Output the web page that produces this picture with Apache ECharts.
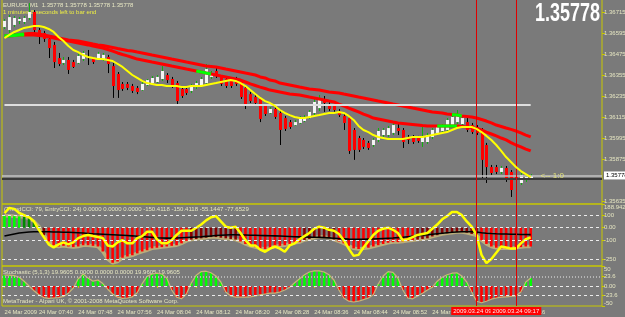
<!DOCTYPE html>
<html><head><meta charset="utf-8">
<script src="https://cdn.jsdelivr.net/npm/echarts@6/dist/echarts.min.js"></script>
<style>html,body{margin:0;padding:0;background:#7a7a7a;overflow:hidden}#c{width:625px;height:317px}</style>
</head><body><div id="c"></div>
<script>
// ---------- DATA ----------
const times = [];
for (let m = 7 * 60 + 33; m <= 9 * 60 + 34; m++) {
  times.push(String(Math.floor(m / 60)).padStart(2, '0') + ':' + String(m % 60).padStart(2, '0'));
}
// [open, close, low, high]
const candles = [
[1.36629,1.36664,1.36618,1.36675],[1.36612,1.36686,1.36595,1.36698],[1.36641,1.36681,1.36629,1.36692],[1.36664,1.36675,1.36646,1.36686],
[1.36658,1.36681,1.36646,1.36692],[1.36681,1.36715,1.36669,1.36766],[1.36715,1.36612,1.36589,1.36726],[1.36612,1.36589,1.36532,1.36624],
[1.36595,1.36561,1.36544,1.36607],[1.36561,1.36509,1.36452,1.36572],[1.36527,1.36429,1.36395,1.36544],[1.36452,1.36418,1.36406,1.36481],
[1.36424,1.36441,1.36412,1.36458],[1.36441,1.36384,1.36361,1.36458],[1.36429,1.36401,1.36395,1.36441],[1.36424,1.36464,1.36418,1.36476],
[1.36447,1.36481,1.36435,1.36492],[1.36458,1.36452,1.36412,1.36498],[1.36452,1.36429,1.36418,1.36458],[1.36452,1.36476,1.36447,1.36487],
[1.36447,1.36470,1.36435,1.36481],[1.36458,1.36418,1.36366,1.36470],[1.36406,1.36292,1.36224,1.36424],[1.36361,1.36269,1.36224,1.36372],
[1.36304,1.36275,1.36264,1.36315],[1.36304,1.36281,1.36269,1.36315],[1.36292,1.36264,1.36252,1.36304],[1.36281,1.36258,1.36246,1.36292],
[1.36269,1.36304,1.36264,1.36315],[1.36298,1.36326,1.36292,1.36332],[1.36309,1.36338,1.36304,1.36349],[1.36315,1.36344,1.36309,1.36355],
[1.36332,1.36378,1.36321,1.36406],[1.36355,1.36326,1.36309,1.36366],[1.36332,1.36292,1.36281,1.36344],[1.36309,1.36206,1.36189,1.36321],
[1.36275,1.36235,1.36224,1.36286],[1.36275,1.36252,1.36241,1.36286],[1.36264,1.36292,1.36252,1.36304],[1.36286,1.36309,1.36275,1.36321],
[1.36298,1.36332,1.36286,1.36344],[1.36309,1.36389,1.36298,1.36418],[1.36344,1.36366,1.36332,1.36378],[1.36378,1.36361,1.36338,1.36401],
[1.36344,1.36304,1.36292,1.36355],[1.36332,1.36292,1.36281,1.36344],[1.36321,1.36292,1.36281,1.36332],[1.36332,1.36304,1.36292,1.36344],
[1.36315,1.36229,1.36218,1.36326],[1.36281,1.36178,1.36161,1.36292],[1.36246,1.36206,1.36195,1.36258],[1.36229,1.36195,1.36189,1.36241],
[1.36218,1.36104,1.36086,1.36229],[1.36178,1.36132,1.36121,1.36189],[1.36138,1.36161,1.36132,1.36172],[1.36161,1.36115,1.36104,1.36172],
[1.36138,1.36041,1.35955,1.36149],[1.36109,1.36047,1.36035,1.36121],[1.36086,1.36058,1.36047,1.36098],[1.36069,1.36086,1.36064,1.36098],
[1.36081,1.36109,1.36075,1.36121],[1.36092,1.36115,1.36086,1.36126],[1.36109,1.36144,1.36104,1.36155],[1.36138,1.36201,1.36126,1.36229],
[1.36166,1.36212,1.36149,1.36241],[1.36212,1.36195,1.36144,1.36235],[1.36189,1.36161,1.36149,1.36201],[1.36178,1.36155,1.36144,1.36189],
[1.36149,1.36126,1.36115,1.36161],[1.36121,1.36081,1.36041,1.36138],[1.36109,1.35921,1.35904,1.36121],[1.36041,1.35927,1.35870,1.36052],
[1.35995,1.35927,1.35915,1.36007],[1.35984,1.35944,1.35932,1.35995],[1.35967,1.35938,1.35927,1.35978],[1.35955,1.35984,1.35944,1.35995],
[1.35984,1.36035,1.35972,1.36052],[1.36012,1.36041,1.36001,1.36052],[1.36012,1.36052,1.36001,1.36064],[1.36024,1.36069,1.36012,1.36081],
[1.36052,1.36035,1.36012,1.36086],[1.36041,1.35972,1.35938,1.36052],[1.36001,1.35984,1.35961,1.36012],[1.36001,1.35972,1.35961,1.36012],
[1.35995,1.35978,1.35967,1.36007],[1.35972,1.36001,1.35944,1.36064],[1.35972,1.36012,1.35961,1.36024],[1.36001,1.36041,1.35989,1.36052],
[1.36024,1.36058,1.36012,1.36069],[1.36035,1.36064,1.36024,1.36075],[1.36041,1.36098,1.36029,1.36109],[1.36069,1.36115,1.36058,1.36126],
[1.36086,1.36126,1.36075,1.36155],[1.36075,1.36109,1.36064,1.36121],[1.36086,1.36041,1.36029,1.36109],[1.36069,1.36029,1.36018,1.36081],
[1.36058,1.36024,1.36012,1.36069],[1.36041,1.35870,1.35755,1.36052],[1.35955,1.35829,1.35738,1.35967],[1.35829,1.35795,1.35784,1.35841],
[1.35829,1.35801,1.35789,1.35841],[1.35801,1.35824,1.35789,1.35835],[1.35824,1.35755,1.35744,1.35835],[1.35801,1.35698,1.35658,1.35812],
[1.35772,1.35755,1.35670,1.35784],[1.35738,1.35784,1.35727,1.35795],[1.35755,1.35772,1.35744,1.35789],[1.35761,1.35778,1.35755,1.35789]
];
const yellowMA = [
1.36566,1.36584,1.36601,1.36612,1.36624,1.36629,1.36635,1.36635,1.36629,1.36618,
1.36601,1.36572,1.36549,1.36521,1.36498,1.36486,1.36469,1.36458,1.36452,1.36446,
1.36446,1.36441,1.36435,1.36418,1.36401,1.36378,1.36355,1.36338,1.36321,1.36309,
1.36304,1.36298,1.36298,1.36292,1.36292,1.36292,1.36286,1.36286,1.36292,1.36292,
1.36292,1.36298,1.36304,1.36309,1.36315,1.36321,1.36326,1.36321,1.36309,1.36292,
1.36269,1.36246,1.36224,1.36206,1.36195,1.36178,1.36155,1.36138,1.36126,1.36115,
1.36109,1.36109,1.36115,1.36121,1.36126,1.36132,1.36138,1.36138,1.36144,1.36138,
1.36121,1.36098,1.36064,1.36041,1.36029,1.36012,1.36001,1.35995,1.35989,1.35989,
1.35989,1.35989,1.35995,1.36001,1.36001,1.36001,1.36007,1.36012,1.36018,1.36024,
1.36029,1.36041,1.36052,1.36058,1.36058,1.36058,1.36047,1.36029,1.36007,1.35984,
1.35955,1.35921,1.35886,1.35858,1.35829,1.35806,1.35789,1.35772];
const upperBand = [
1.36578,1.36581,1.36584,1.36586,1.36589,1.36592,1.36592,1.36589,1.36584,1.36578,
1.36572,1.36566,1.36561,1.36555,1.36552,1.36549,1.36544,1.36538,1.36532,1.36527,
1.36524,1.36518,1.36512,1.36506,1.36501,1.36495,1.36492,1.36486,1.36481,1.36475,
1.36469,1.36464,1.36458,1.36452,1.36446,1.36441,1.36435,1.36429,1.36424,1.36418,
1.36412,1.36406,1.36404,1.36401,1.36395,1.36389,1.36384,1.36378,1.36372,1.36366,
1.36361,1.36355,1.36344,1.36338,1.36326,1.36321,1.36309,1.36304,1.36298,1.36292,
1.36286,1.36281,1.36275,1.36272,1.36269,1.36264,1.36258,1.36255,1.36252,1.36246,
1.36241,1.36235,1.36229,1.36224,1.36218,1.36212,1.36206,1.36201,1.36195,1.36189,
1.36184,1.36178,1.36172,1.36166,1.36161,1.36155,1.36149,1.36144,1.36141,1.36138,
1.36132,1.36129,1.36126,1.36121,1.36118,1.36115,1.36109,1.36101,1.36092,1.36081,
1.36069,1.36061,1.36052,1.36044,1.36035,1.36024,1.36012,1.36001];
const lowerBand = [
1.36578,1.36578,1.36581,1.36584,1.36584,1.36584,1.36584,1.36581,1.36578,1.36572,
1.36566,1.36561,1.36555,1.36549,1.36544,1.36538,1.36532,1.36527,1.36521,1.36515,
1.36509,1.36501,1.36492,1.36481,1.36472,1.36464,1.36455,1.36446,1.36441,1.36435,
1.36429,1.36424,1.36418,1.36412,1.36406,1.36401,1.36395,1.36389,1.36384,1.36378,
1.36372,1.36366,1.36361,1.36355,1.36349,1.36344,1.36338,1.36332,1.36326,1.36315,
1.36304,1.36295,1.36286,1.36278,1.36269,1.36264,1.36258,1.36252,1.36246,1.36244,
1.36241,1.36235,1.36229,1.36224,1.36218,1.36212,1.36206,1.36201,1.36189,1.36178,
1.36166,1.36155,1.36144,1.36132,1.36121,1.36109,1.36104,1.36098,1.36092,1.36086,
1.36081,1.36078,1.36075,1.36072,1.36069,1.36066,1.36064,1.36064,1.36064,1.36064,
1.36064,1.36064,1.36064,1.36061,1.36058,1.36055,1.36049,1.36041,1.36029,1.36018,
1.36007,1.35995,1.35984,1.35969,1.35955,1.35944,1.35932,1.35921];
const greenUpperRanges = [[0, 4], [91, 93]];
const greenLowerRanges = [[0, 4], [39, 42], [88, 92]];
const trendCCI = [
95,95,92,90,85,75,50,10,-60,-110,
-140,-150,-145,-150,-155,-150,-140,-140,-145,-150,
-190,-250,-280,-270,-240,-230,-220,-205,-190,-180,
-165,-160,-155,-150,-145,-140,-125,-105,-95,-90,
-85,-80,-75,-75,-80,-85,-90,-95,-110,-130,
-145,-155,-165,-170,-160,-150,-145,-140,-130,-120,
-115,-98,-90,-80,-75,-75,-80,-95,-110,-125,
-145,-165,-170,-165,-160,-150,-140,-130,-120,-115,
-115,-110,-105,-100,-95,-90,-85,-70,-60,-50,
-45,-40,-35,-35,-40,-50,-60,-100,-130,-150,
-160,-165,-165,-165,-160,-155,-150,-150.41];
const entryCCI = [
117,158,150,117,100,83,50,-17,-75,-133,
-158,-133,-117,-133,-117,-83,-67,-58,-67,-75,
-83,-142,-150,-117,-100,-125,-125,-83,-67,-33,
-33,-92,-125,-125,-100,-58,-25,-25,-25,0,
25,58,83,92,50,8,0,8,-42,-100,
-142,-142,-175,-192,-167,-150,-167,-192,-142,-125,
-92,-67,-42,-8,8,0,-17,-25,-50,-100,
-167,-225,-217,-158,-108,-58,-25,-8,0,-17,
-42,-100,-92,-75,-58,-50,-42,-8,25,67,
92,125,125,100,50,8,-58,-217,-283,-250,
-200,-150,-158,-167,-167,-125,-92,-77.65];
const cciSignal = [
-67,-58,-50,-42,-38,-34,-33,-33,-33,-33,
-34,-35,-36,-37,-38,-40,-43,-46,-49,-51,
-53,-55,-57,-59,-61,-63,-65,-68,-71,-74,
-77,-80,-82,-83,-83,-82,-80,-78,-76,-74,
-72,-69,-66,-63,-60,-58,-57,-57,-58,-59,
-60,-61,-62,-63,-64,-65,-66,-68,-70,-72,
-73,-74,-75,-76,-77,-79,-81,-84,-87,-89,
-91,-92,-92,-92,-91,-90,-88,-86,-84,-82,
-79,-76,-72,-68,-64,-60,-56,-52,-48,-44,
-40,-37,-34,-33,-33,-33,-35,-40,-44,-47,
-49,-50,-51,-52,-53,-54,-55,-55.14];
const stochHist = [
27,27,26,22,12,0,-12,-22,-29,-31,
-30,-29,-26,-18,-5,18,30,20,12,15,
6,-8,-20,-28,-31,-30,-27,-17,6,24,
30,32,30,20,-10,-28,-32,-20,8,27,
36,37,33,25,10,-15,-25,-28,-28,-28,
-27,-25,-22,-20,-18,-18,-15,-10,-3,8,
18,28,35,38,38,35,28,15,-10,-30,
-38,-40,-38,-34,-30,-22,5,25,36,34,
20,-10,-30,-32,-25,-18,-10,-3,12,22,
28,32,33,25,10,-15,-38,-42,-38,-33,
-30,-28,-27,-26,-25,-15,10,19.96];
const priceTicks = [1.35635, 1.35875, 1.35995, 1.36115, 1.36235, 1.36355, 1.36475, 1.36595, 1.36715];
const cciTicks = [-305.758, -250, -100, 0, 100, 188.942];
const cciTickLabels = ['-305.758', '-250', '-100', '0.00', '100', '188.942'];
const stochTicks = [-50, -23.6, 0, 23.6, 50];
const stochTickLabels = ['-50', '-23.6', '0.00', '23.6', '50'];
const lastPrice = 1.35778;
const hLinePrice = 1.36184;
const vLineIdx = [96, 104];
const vLineLabels = ['2009.03.24 09:09', '2009.03.24 09:17'];

// ---------- CHART ----------
const F = '"Liberation Sans", Arial, sans-serif';
const TXT = '#e6e6c2';
const YEL = '#c8c800';
const inRanges = (i, rs) => rs.some(r => i >= r[0] && i <= r[1]);
const nearestLabel = (v, ticks, labels) => {
  let b = 0; ticks.forEach((t, i) => { if (Math.abs(t - v) < Math.abs(ticks[b] - v)) b = i; });
  return labels[b];
};
const gridBase = { left: 2, right: 23, show: true, borderColor: YEL, borderWidth: 1,
  backgroundColor: 'transparent', containLabel: false, outerBoundsMode: 'none' };
const lblBase = { color: TXT, fontSize: 6, fontFamily: F };
const vLines = (withLabel) => vLineIdx.map((k, j) => ({
  xAxis: times[k],
  lineStyle: { color: '#e00000', width: 1, type: 'solid' },
  label: withLabel ? { show: true, position: 'start', distance: 1, formatter: vLineLabels[j],
    backgroundColor: '#ff0000', color: '#ffe8e8', fontSize: 6, fontFamily: F, padding: [1, 2] } : { show: false }
}));

const chart = echarts.init(document.getElementById('c'));
chart.setOption({
  animation: false,
  backgroundColor: '#7a7a7a',
  textStyle: { fontFamily: F },
  grid: [
    Object.assign({}, gridBase, { top: -1, height: 205 }),
    Object.assign({}, gridBase, { top: 204, height: 62 }),
    Object.assign({}, gridBase, { top: 266, height: 40 })
  ],
  xAxis: [0, 1, 2].map(g => ({
    type: 'category', gridIndex: g, data: times, boundaryGap: true,
    axisLine: { show: false }, splitLine: { show: false },
    axisTick: { show: g === 2, alignWithLabel: true, length: 2, lineStyle: { color: YEL },
      interval: (i) => i === 0 || (i % 8 === 7 && i <= 107) },
    axisLabel: Object.assign({}, lblBase, { show: g === 2, align: 'left', margin: 3, fontSize: 5.8,
      interval: (i) => i === 0 || (i % 8 === 7 && i <= 107),
      formatter: (v, i) => i === 0 ? '24 Mar 2009' : '24 Mar ' + v })
  })),
  yAxis: [
    { type: 'value', gridIndex: 0, position: 'right', min: 1.356179, max: 1.367893,
      axisLine: { show: false }, splitLine: { show: false },
      axisTick: { show: true, customValues: priceTicks, length: 3, lineStyle: { color: YEL } },
      axisLabel: Object.assign({}, lblBase, { customValues: priceTicks, margin: 2, formatter: v => v.toFixed(5) }) },
    { type: 'value', gridIndex: 1, position: 'right', min: -305.758, max: 188.942,
      axisLine: { show: false }, splitLine: { show: false },
      axisTick: { show: true, customValues: cciTicks, length: 3, lineStyle: { color: YEL } },
      axisLabel: Object.assign({}, lblBase, { customValues: cciTicks, margin: 2,
        verticalAlignMinLabel: 'bottom', verticalAlignMaxLabel: 'top',
        formatter: v => nearestLabel(v, cciTicks, cciTickLabels) }) },
    { type: 'value', gridIndex: 2, position: 'right', min: -50, max: 50,
      axisLine: { show: false }, splitLine: { show: false },
      axisTick: { show: true, customValues: stochTicks, length: 3, lineStyle: { color: YEL } },
      axisLabel: Object.assign({}, lblBase, { customValues: stochTicks, margin: 2,
        verticalAlignMinLabel: 'bottom', verticalAlignMaxLabel: 'top',
        formatter: v => nearestLabel(v, stochTicks, stochTickLabels) }) }
  ],
  series: [
    // ---- main window objects
    { type: 'line', xAxisIndex: 0, yAxisIndex: 0, data: [], z: 1, silent: true,
      markLine: { symbol: ['none', 'none'], silent: true, animation: false, precision: 6, label: { show: false },
        data: [
          [{ coord: [times[0], hLinePrice], lineStyle: { color: '#dedede', width: 2, type: 'solid' } },
           { coord: [times[107], hLinePrice], lineStyle: { color: '#dedede', width: 2, type: 'solid' } }],
          { yAxis: lastPrice + 0.00003, lineStyle: { color: '#c4c4c4', width: 1.5, type: 'solid' },
            label: { show: true, position: 'end', distance: 2, formatter: lastPrice.toFixed(5),
              backgroundColor: '#ffffff', color: '#000000', fontSize: 6, fontFamily: F, padding: [1, 2] } },
          { yAxis: lastPrice - 0.00014, lineStyle: { color: '#3a3a3a', width: 2, type: 'solid' } }
        ].concat(vLines(false)) },
      markPoint: { symbol: 'circle', symbolSize: 0, silent: true,
        data: [{ coord: [times[109], lastPrice],
          label: { show: true, position: 'right', distance: 0, formatter: '<-- 1:0', color: '#e4e47a', fontSize: 8, fontFamily: F } }] } },
    // candles
    { type: 'custom', name: 'EURUSD', xAxisIndex: 0, yAxisIndex: 0, z: 2,
      data: candles.map((d, i) => [i, d[0], d[1], d[2], d[3]]),
      encode: { x: 0, y: [1, 2, 3, 4] },
      renderItem: (params, api) => {
        const i = api.value(0), o = api.value(1), c = api.value(2), lo = api.value(3), hi = api.value(4);
        const pO = api.coord([i, o]), pC = api.coord([i, c]), pL = api.coord([i, lo]), pH = api.coord([i, hi]);
        const up = c >= o;
        const cx = Math.round(pO[0]);
        const top = Math.min(pO[1], pC[1]);
        const h = Math.max(1, Math.abs(pO[1] - pC[1]));
        return { type: 'group', children: [
          { type: 'line', shape: { x1: cx + 0.5, y1: pL[1], x2: cx + 0.5, y2: pH[1] },
            style: { stroke: up ? '#10b010' : '#000000', lineWidth: 1 } },
          { type: 'rect', shape: { x: cx - 1, y: top, width: 3, height: h },
            style: { fill: up ? '#f4f4f4' : '#ff0000' } }
        ] };
      } },
    { type: 'line', xAxisIndex: 0, yAxisIndex: 0, data: upperBand, symbol: 'none', z: 3,
      lineStyle: { color: '#ff0000', width: 3 } },
    { type: 'line', xAxisIndex: 0, yAxisIndex: 0, data: lowerBand, symbol: 'none', z: 3,
      lineStyle: { color: '#ff0000', width: 3 } },
    { type: 'line', xAxisIndex: 0, yAxisIndex: 0, symbol: 'none', z: 4, connectNulls: false,
      data: upperBand.map((v, i) => inRanges(i, greenUpperRanges) ? v : null),
      lineStyle: { color: '#00ff00', width: 3 } },
    { type: 'line', xAxisIndex: 0, yAxisIndex: 0, symbol: 'none', z: 4, connectNulls: false,
      data: lowerBand.map((v, i) => inRanges(i, greenLowerRanges) ? v : null),
      lineStyle: { color: '#00ff00', width: 3 } },
    { type: 'line', xAxisIndex: 0, yAxisIndex: 0, data: yellowMA, symbol: 'none', z: 5,
      lineStyle: { color: '#ffff00', width: 2 } },
    // ---- CCI window
    { type: 'line', xAxisIndex: 1, yAxisIndex: 1, data: trendCCI, symbol: 'none', z: 1,
      lineStyle: { color: '#bcae7a', width: 3.5 } },
    { type: 'bar', xAxisIndex: 1, yAxisIndex: 1, data: trendCCI, barWidth: 2.6, z: 2,
      itemStyle: { color: p => p.value >= 88 ? '#00ff00' : p.value > 0 ? '#008c00' : p.value <= -100 ? '#ff0000' : '#880000' } },
    { type: 'line', xAxisIndex: 1, yAxisIndex: 1, data: [], z: 2.5, silent: true,
      markLine: { symbol: ['none', 'none'], silent: true, precision: 6, label: { show: false },
        data: [100, 0, -100, -250].map(v => ({ yAxis: v, lineStyle: { color: '#ececec', width: 1, type: [3, 3] } }))
          .concat(vLines(false)) } },
    { type: 'line', xAxisIndex: 1, yAxisIndex: 1, data: cciSignal, symbol: 'none', z: 3,
      lineStyle: { color: '#000000', width: 1.6 } },
    { type: 'line', xAxisIndex: 1, yAxisIndex: 1, data: entryCCI, symbol: 'none', z: 4,
      lineStyle: { color: '#ffff00', width: 2.5 } },
    // ---- Stochastic window
    { type: 'bar', xAxisIndex: 2, yAxisIndex: 2, data: stochHist, barWidth: 2.6, z: 2,
      itemStyle: { color: p => p.value >= 0 ? '#00ff00' : '#ff0000' } },
    { type: 'line', xAxisIndex: 2, yAxisIndex: 2, data: stochHist, symbol: 'none', z: 3,
      lineStyle: { color: '#c8b478', width: 1.2 } },
    { type: 'line', xAxisIndex: 2, yAxisIndex: 2, data: [], z: 4, silent: true,
      markLine: { symbol: ['none', 'none'], silent: true, precision: 6, label: { show: false },
        data: [
          { yAxis: 23.6, lineStyle: { color: '#b4b4b4', width: 2, type: [1, 2] } },
          { yAxis: 0, lineStyle: { color: '#ececec', width: 1, type: [3, 3] } },
          { yAxis: -23.6, lineStyle: { color: '#ececec', width: 1, type: [3, 3] } }
        ].concat(vLines(true)) } }
  ],
  graphic: [
    { type: 'text', left: 3, top: 2, z: 0, style: { text: 'EURUSD,M1  1.35778 1.35778 1.35778 1.35778', fill: '#e8e8c4', fontSize: 6, fontFamily: F } },
    { type: 'text', left: 3, top: 9, z: 0, style: { text: '1 minutes 8 seconds left to bar end', fill: '#eeee44', fontSize: 6, fontFamily: F } },
    { type: 'text', left: 535, top: 2, z: 100, scaleX: 0.72, style: { text: '1.35778', fill: '#ffffff', fontSize: 25, fontWeight: 'bold', fontFamily: F } },
    { type: 'text', left: 4, top: 206, z: 0, style: { text: '(TrendCCI: 79, EntryCCI: 24) 0.0000 0.0000 0.0000 -150.4118 -150.4118 -55.1447 -77.6529', fill: TXT, fontSize: 6, fontFamily: F } },
    { type: 'text', left: 3, top: 269, z: 0, style: { text: 'Stochastic (5,1,3) 19.9605 0.0000 0.0000 0.0000 19.9605 19.9605', fill: TXT, fontSize: 6, fontFamily: F } },
    { type: 'text', left: 3, top: 298, z: 0, style: { text: 'MetaTrader - Alpari UK, \u00a9 2001-2008 MetaQuotes Software Corp.', fill: TXT, fontSize: 6, fontFamily: F } }
  ]
});
</script></body></html>
